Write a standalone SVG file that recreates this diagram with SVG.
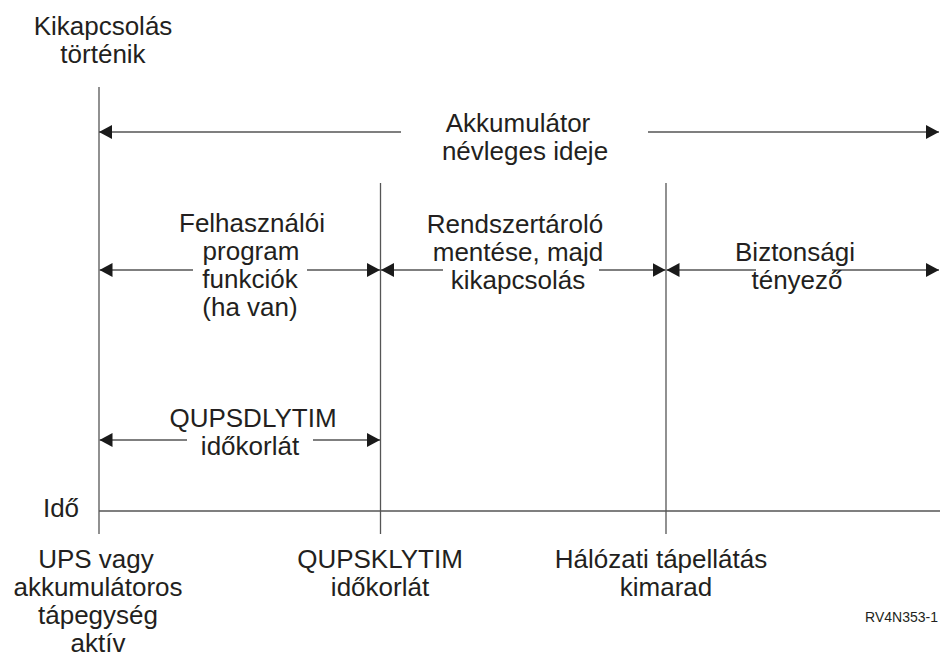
<svg xmlns="http://www.w3.org/2000/svg" width="940" height="660" viewBox="0 0 940 660">
<style>
.t{font-family:"Liberation Sans",Arial,sans-serif;font-size:26px;fill:#231f20;text-anchor:middle}
.s{font-family:"Liberation Sans",Arial,sans-serif;font-size:14px;fill:#231f20;text-anchor:end}
.ln{stroke:#555;stroke-width:1.3;fill:none}
.ar{stroke:#555;stroke-width:1.3;fill:none;marker-end:url(#ah)}
</style>
<defs>
<marker id="ah" markerUnits="userSpaceOnUse" markerWidth="13" markerHeight="14" refX="13" refY="7" orient="auto">
<path d="M0,0 L13,7 L0,14 z" fill="#1a1a1a"/>
</marker>
</defs>
<rect width="940" height="660" fill="#fff"/>
<g id="axes">
<line class="ln" x1="99" y1="87" x2="99" y2="534"/>
<line class="ln" x1="380.5" y1="183" x2="380.5" y2="534"/>
<line class="ln" x1="666" y1="183" x2="666" y2="534"/>
<line class="ln" x1="99" y1="511" x2="940" y2="511"/>
</g>
<g id="connectors">
<line class="ar" x1="401" y1="132" x2="99" y2="132"/>
<line class="ar" x1="648" y1="132" x2="939" y2="132"/>
<line class="ar" x1="193" y1="270" x2="99.5" y2="270"/>
<line class="ar" x1="307" y1="270" x2="380" y2="270"/>
<line class="ar" x1="443" y1="270" x2="381" y2="270"/>
<line class="ar" x1="599" y1="270" x2="665.5" y2="270"/>
<line class="ar" x1="756" y1="270" x2="666.5" y2="270"/>
<line class="ar" x1="832" y1="270" x2="939" y2="270"/>
<line class="ar" x1="187" y1="440" x2="99.5" y2="440"/>
<line class="ar" x1="313" y1="440" x2="380" y2="440"/>
</g>
<g id="shutdown">
<text class="t" x="103" y="35">Kikapcsolás</text>
<text class="t" x="103" y="63">történik</text>
</g>
<g id="battery-time">
<text class="t" x="518" y="132">Akkumulátor</text>
<text class="t" x="525" y="160">névleges ideje</text>
</g>
<g id="user-program">
<text class="t" x="252" y="232">Felhasználói</text>
<text class="t" x="251" y="260">program</text>
<text class="t" x="250" y="288">funkciók</text>
<text class="t" x="250" y="316">(ha van)</text>
</g>
<g id="save-storage">
<text class="t" x="515" y="233">Rendszertároló</text>
<text class="t" x="518" y="261">mentése, majd</text>
<text class="t" x="518" y="289">kikapcsolás</text>
</g>
<g id="safety">
<text class="t" x="795" y="261">Biztonsági</text>
<text class="t" x="797" y="289">tényező</text>
</g>
<g id="qupsdlytim">
<text class="t" x="253" y="427">QUPSDLYTIM</text>
<text class="t" x="250" y="455">időkorlát</text>
</g>
<g id="time-label">
<text class="t" x="61" y="517">Idő</text>
</g>
<g id="ups-active">
<text class="t" x="96" y="568">UPS vagy</text>
<text class="t" x="98" y="596">akkumulátoros</text>
<text class="t" x="98" y="624">tápegység</text>
<text class="t" x="98" y="652">aktív</text>
</g>
<g id="qupsklytim">
<text class="t" x="380" y="568">QUPSKLYTIM</text>
<text class="t" x="380" y="596">időkorlát</text>
</g>
<g id="power-loss">
<text class="t" x="661" y="568">Hálózati tápellátás</text>
<text class="t" x="666" y="596">kimarad</text>
</g>
<g id="figure-id">
<text class="s" x="938" y="622">RV4N353-1</text>
</g>
</svg>
